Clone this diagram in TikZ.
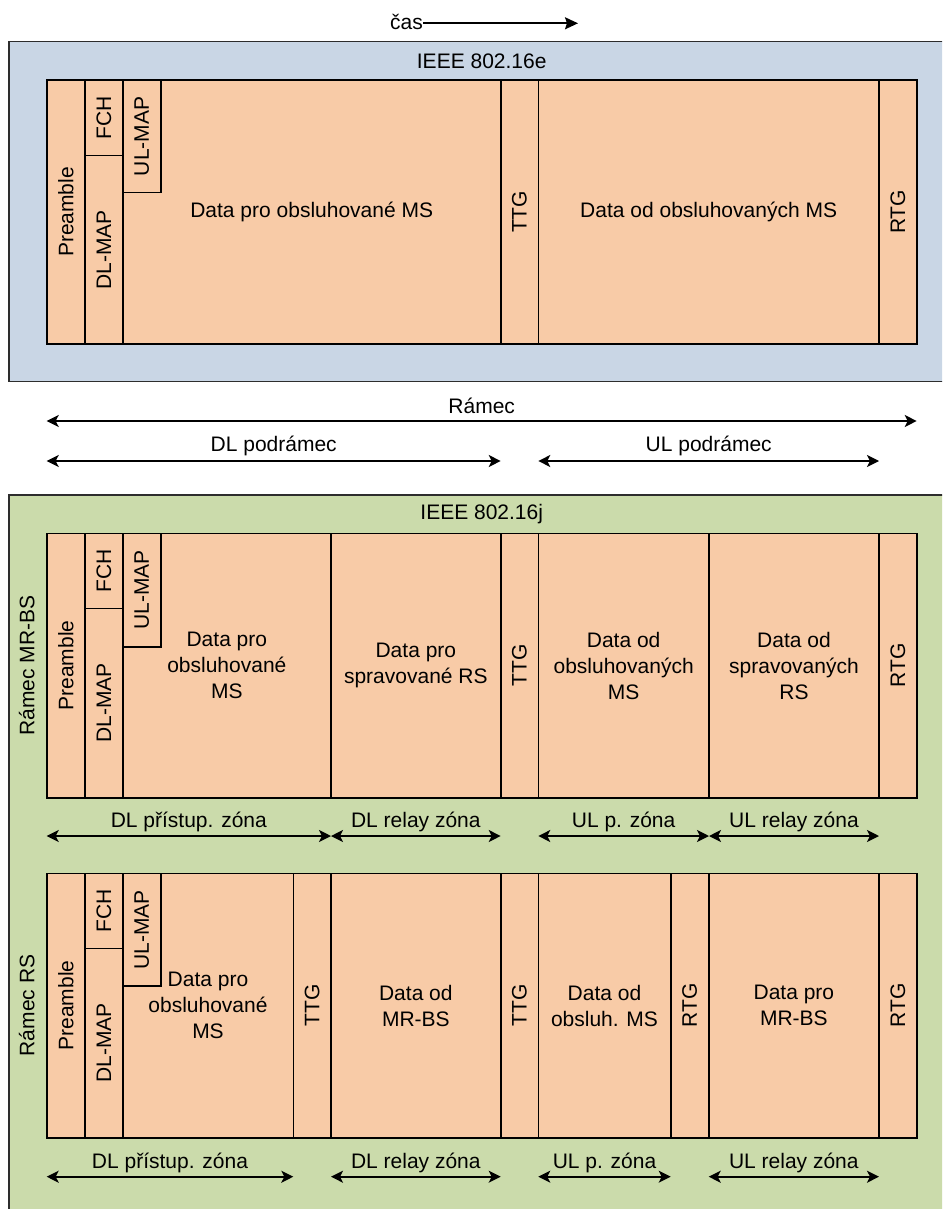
\documentclass[tikz,border=0pt]{standalone}
\usepackage{fontspec}
\setmainfont{Liberation Sans}
\usepackage{graphicx}
\usetikzlibrary{arrows.meta}
\definecolor{bgblue}{RGB}{201,214,229}
\definecolor{bggreen}{RGB}{203,219,171}
\definecolor{cellor}{RGB}{248,203,167}
\definecolor{outline}{RGB}{45,45,45}
\newcommand{\mainfs}{\fontsize{21}{26}\selectfont}
\newcommand{\cellnode}[6]{%
  \node[cell, minimum width={(#4-#2)*1pt}, minimum height={(#5-#3)*1pt}] (#1) at ({(#2+#4)/2},{(#3+#5)/2}) {#6};}
\newcommand{\vt}[1]{\rotatebox{90}{#1}}
\tikzset{
  cell/.style={draw=black, fill=cellor, line width=1.6pt, inner sep=0pt, align=center, font=\mainfs},
  panel/.style={draw=outline, line width=1.3pt},
  lbl/.style={font=\mainfs, inner sep=0pt},
  dblarr/.style={line width=1.6pt, {Stealth[length=12pt,width=12pt,inset=3pt]}-{Stealth[length=12pt,width=12pt,inset=3pt]}},
  onearr/.style={line width=1.6pt, -{Stealth[length=13pt,width=12pt,inset=2pt]}}
}
\begin{document}
\begin{tikzpicture}[x=1pt,y=-1pt]
\useasboundingbox (0,0) rectangle (942,1209);
\clip (0,0) rectangle (942,1209);
\fill[white] (0,0) rectangle (942,1209);

% time arrow
\node[lbl, anchor=base east] (cas) at (423,29.5) {čas};
\coordinate (casend) at (578,23.3);
\draw[onearr] (cas.east |- casend) -- (casend);

% ===== IEEE 802.16e panel =====
\draw[panel, fill=bgblue] (9,41.7) rectangle (960,381.7);
\node[lbl] (t16e) at (481.7,61.5) {IEEE 802.16e};
\cellnode{pre1}{46.7}{80}{85}{344}{\vt{Preamble}}
\cellnode{fch1}{85}{80}{122.7}{155.7}{\vt{FCH}}
\cellnode{dlm1}{85}{155.7}{122.7}{344}{\vt{DL-MAP}}
\cellnode{dat1}{122.7}{80}{500.7}{344}{Data pro obsluhované MS}
\cellnode{ulm1}{122.7}{80}{160.7}{192.7}{\vt{UL-MAP}}
\cellnode{ttg1}{500.7}{80}{538.3}{344}{\vt{TTG}}
\cellnode{dod1}{538.3}{80}{879}{344}{Data od obsluhovaných MS}
\cellnode{rtg1}{879}{80}{916.7}{344}{\vt{RTG}}

% frame arrows
\coordinate (rA) at (46.7,421);
\coordinate (rB) at (916.7,421);
\draw[dblarr] (rA) -- (rB);
\node[lbl] (ramec) at (481.7,405.5) {Rámec};
\coordinate (dA) at (46.7,461);
\coordinate (dB) at (500.7,461);
\draw[dblarr] (dA) -- (dB);
\node[lbl] (dlpod) at (273.7,445.5) {DL podrámec};
\coordinate (uA) at (538.3,461);
\coordinate (uB) at (879,461);
\draw[dblarr] (uA) -- (uB);
\node[lbl] (ulpod) at (708.7,445.5) {UL podrámec};

% ===== IEEE 802.16j panel =====
\draw[panel, fill=bggreen] (9,495) rectangle (960,1230);
\node[lbl] (t16j) at (481.7,514) {IEEE 802.16j};

% MR-BS frame
\node[lbl, rotate=90] (rmrbs) at (26.7,665.5) {Rámec MR-BS};
\cellnode{pre2}{46.7}{533.3}{85}{797.7}{\vt{Preamble}}
\cellnode{fch2}{85}{533.3}{122.7}{608.3}{\vt{FCH}}
\cellnode{dlm2}{85}{608.3}{122.7}{797.7}{\vt{DL-MAP}}
\cellnode{dat2}{122.7}{533.3}{331}{797.7}{Data pro\\obsluhované\\MS}
\cellnode{ulm2}{122.7}{533.3}{160.7}{646.7}{\vt{UL-MAP}}
\cellnode{spr2}{331}{533.3}{500.7}{797.7}{Data pro\\spravované RS}
\cellnode{ttg2}{500.7}{533.3}{538.3}{797.7}{\vt{TTG}}
\cellnode{dod2}{538.3}{533.3}{709}{797.7}{Data od\\obsluhovaných\\MS}
\cellnode{dsp2}{709}{533.3}{879}{797.7}{Data od\\spravovaných\\RS}
\cellnode{rtg2}{879}{533.3}{916.7}{797.7}{\vt{RTG}}

\coordinate (z1a) at (46.7,836);
\coordinate (z1b) at (331,836);
\coordinate (z1c) at (500.7,836);
\coordinate (z1d) at (538.3,836);
\coordinate (z1e) at (709,836);
\coordinate (z1f) at (879,836);
\draw[dblarr] (z1a) -- (z1b);
\draw[dblarr] (z1b) -- (z1c);
\draw[dblarr] (z1d) -- (z1e);
\draw[dblarr] (z1e) -- (z1f);
\node[lbl] (l1a) at (188.8,822) {DL přístup. zóna};
\node[lbl] (l1b) at (415.8,822) {DL relay zóna};
\node[lbl] (l1c) at (623.6,822) {UL p. zóna};
\node[lbl] (l1d) at (794,822) {UL relay zóna};

% RS frame
\node[lbl, rotate=90] (rrs) at (26.7,1005.5) {Rámec RS};
\cellnode{pre3}{46.7}{873.3}{85}{1137.7}{\vt{Preamble}}
\cellnode{fch3}{85}{873.3}{122.7}{948.3}{\vt{FCH}}
\cellnode{dlm3}{85}{948.3}{122.7}{1137.7}{\vt{DL-MAP}}
\cellnode{dat3}{122.7}{873.3}{293.3}{1137.7}{Data pro\\obsluhované\\MS}
\cellnode{ulm3}{122.7}{873.3}{160.7}{986}{\vt{UL-MAP}}
\cellnode{ttg3a}{293.3}{873.3}{331}{1137.7}{\vt{TTG}}
\cellnode{dmr3}{331}{873.3}{500.7}{1137.7}{Data od\\MR-BS}
\cellnode{ttg3b}{500.7}{873.3}{538.3}{1137.7}{\vt{TTG}}
\cellnode{dob3}{538.3}{873.3}{670.7}{1137.7}{Data od\\obsluh. MS}
\cellnode{rtg3a}{670.7}{873.3}{708.7}{1137.7}{\vt{RTG}}
\cellnode{dpr3}{708.7}{873.3}{879}{1137.7}{Data pro\\MR-BS}
\cellnode{rtg3b}{879}{873.3}{916.7}{1137.7}{\vt{RTG}}

\coordinate (z2a) at (46.7,1176.7);
\coordinate (z2b) at (293.3,1176.7);
\coordinate (z2c) at (331,1176.7);
\coordinate (z2d) at (500.7,1176.7);
\coordinate (z2e) at (538.3,1176.7);
\coordinate (z2f) at (670.7,1176.7);
\coordinate (z2g) at (708.7,1176.7);
\coordinate (z2h) at (879,1176.7);
\draw[dblarr] (z2a) -- (z2b);
\draw[dblarr] (z2c) -- (z2d);
\draw[dblarr] (z2e) -- (z2f);
\draw[dblarr] (z2g) -- (z2h);
\node[lbl] (l2a) at (170,1163) {DL přístup. zóna};
\node[lbl] (l2b) at (415.8,1163) {DL relay zóna};
\node[lbl] (l2c) at (604.5,1163) {UL p. zóna};
\node[lbl] (l2d) at (793.8,1163) {UL relay zóna};
\end{tikzpicture}
\end{document}
